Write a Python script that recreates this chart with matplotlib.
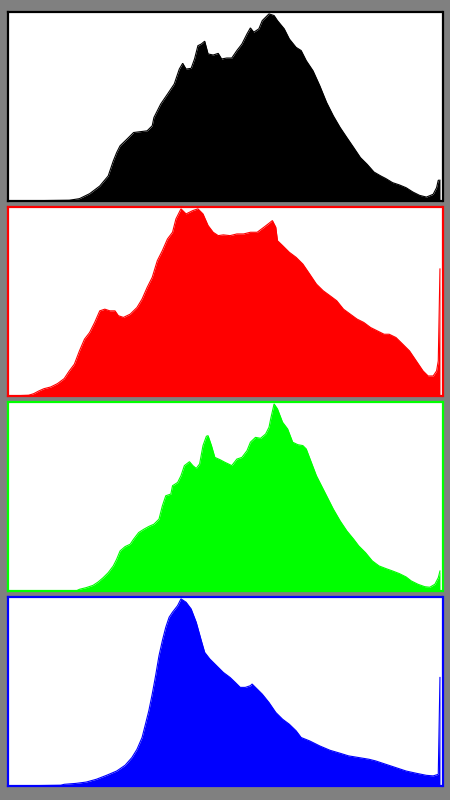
import matplotlib
matplotlib.use("Agg")
import matplotlib.pyplot as plt

# Black (luminance) channel
lum_levels = [0, 36, 42, 48, 54, 59, 62, 64, 66, 70, 74, 82, 85, 86, 90, 94, 98, 101, 103, 105,
              108, 110, 112, 114, 116, 118, 121, 124, 126, 129, 132, 135, 138, 141, 143, 145, 148,
              150, 152, 154, 157, 159, 163, 166, 170, 173, 176, 180, 184, 188, 192, 196, 200, 204,
              208, 212, 216, 220, 223, 227, 231, 235, 239, 243, 247, 251, 253, 254, 255]
lum_values = [0, 0.4, 1.25, 3.9, 8.0, 13.4, 21.4, 25.9, 29.5, 33.0, 36.6, 37.5, 40.2, 44.6, 51.8,
              57.1, 62.5, 70.5, 73.6, 70.5, 70.9, 75.9, 83.0, 83.9, 85.4, 78.6, 78.0, 78.9, 75.9,
              76.4, 76.4, 80.4, 83.9, 89.3, 92.5, 90.2, 92.0, 96.4, 98.2, 100, 99.1, 96.4, 92.0,
              86.6, 82.1, 80.4, 75.0, 69.6, 61.6, 52.7, 45.5, 39.3, 33.9, 28.6, 23.2, 19.6, 15.5,
              13.4, 12.0, 9.8, 8.6, 7.1, 4.8, 3.0, 2.1, 3.6, 7.1, 11.1, 11.1]

# Red channel
red_levels = [0, 12, 15, 18, 21, 25, 29, 33, 36, 39, 42, 45, 48, 51, 54, 57, 60, 63, 65, 68, 72,
              76, 79, 82, 85, 88, 91, 94, 97, 99, 102, 105, 109, 112, 115, 118, 121, 124, 127,
              131, 135, 139, 143, 147, 151, 154, 156, 158, 159, 162, 166, 170, 174, 178, 182,
              186, 190, 194, 198, 202, 206, 210, 214, 218, 222, 225, 229, 233, 237, 241, 245,
              248, 251, 253, 254, 255]
red_values = [0, 0.4, 1.25, 2.7, 3.9, 4.8, 6.6, 9.3, 13.4, 17.0, 24.1, 30.4, 33.9, 39.3, 45.5,
              46.4, 45.5, 45.5, 42.9, 42.0, 43.75, 47.3, 51.8, 58.0, 63.4, 72.3, 77.7, 83.9, 87.5,
              94.6, 100, 97.3, 99.1, 100, 97.3, 91.1, 87.5, 85.7, 86.1, 85.7, 86.6, 86.6, 87.5,
              87.5, 90.2, 92.3, 93.75, 90.2, 83.0, 80.4, 76.8, 74.1, 70.5, 65.2, 59.8, 56.25,
              53.6, 50.9, 46.4, 43.75, 41.1, 39.3, 36.6, 34.8, 33.0, 33.0, 31.25, 27.7, 24.1,
              18.75, 13.4, 10.7, 10.7, 13.4, 18.75, 67.9]

# Green channel
green_levels = [0, 40, 42, 46, 50, 53, 56, 59, 62, 64, 66, 69, 72, 74, 77, 80, 83, 86, 89, 91,
                93, 96, 97, 100, 102, 104, 107, 109, 111, 113, 115, 117, 118, 120, 122, 125, 128,
                130, 132, 135, 138, 141, 143, 146, 149, 152, 154, 155, 157, 159, 162, 165, 168,
                171, 174, 176, 179, 182, 185, 188, 192, 196, 200, 204, 207, 211, 215, 219, 223,
                227, 231, 235, 238, 242, 246, 249, 252, 254, 255]
green_values = [0, 0, 0.9, 1.8, 3.0, 4.8, 7.1, 9.8, 13.4, 17.0, 21.4, 23.75, 25.0, 27.7, 31.25,
                33.0, 34.5, 35.7, 38.4, 45.5, 50.9, 51.8, 56.25, 58.0, 61.6, 67.0, 69.1, 67.0,
                65.5, 67.9, 77.7, 82.7, 83.0, 77.7, 71.4, 70.2, 68.75, 67.9, 67.0, 70.5, 71.4,
                75.0, 79.5, 82.1, 81.6, 83.9, 87.5, 92.0, 100, 97.3, 90.2, 86.6, 79.5, 78.2, 77.7,
                75.9, 68.75, 61.6, 56.25, 50.9, 43.75, 37.5, 32.1, 27.7, 24.1, 20.5, 16.1, 13.4,
                12.0, 10.7, 9.3, 7.5, 5.4, 3.6, 2.3, 2.0, 3.6, 7.1, 10.7]

# Blue channel
blue_levels = [0, 31, 33, 40, 46, 52, 58, 64, 69, 73, 76, 79, 81, 83, 85, 87, 89, 91, 93, 95,
               97, 100, 102, 105, 108, 111, 114, 116, 119, 123, 127, 131, 134, 137, 140, 143,
               144, 146, 150, 154, 158, 162, 166, 170, 173, 178, 184, 190, 196, 201, 207, 213,
               217, 223, 229, 235, 241, 247, 251, 254, 255]
blue_values = [0, 0.4, 0.9, 1.4, 2.1, 3.6, 5.7, 8.0, 11.1, 15.2, 19.6, 25.9, 33.0, 40.2, 49.1,
               58.9, 69.6, 77.7, 84.8, 90.2, 92.9, 96.4, 100, 98.2, 94.6, 87.5, 77.7, 71.4, 67.9,
               64.3, 60.7, 58.0, 55.4, 52.7, 52.7, 53.6, 54.5, 52.7, 49.1, 44.6, 39.3, 35.7, 33.0,
               29.5, 25.9, 24.1, 21.4, 19.1, 17.5, 16.1, 15.2, 14.3, 13.4, 11.6, 9.8, 8.0, 6.8,
               5.7, 5.4, 6.25, 58.0]

channels = [
    (lum_levels, lum_values, "#000000"),
    (red_levels, red_values, "#ff0000"),
    (green_levels, green_values, "#00ff00"),
    (blue_levels, blue_values, "#0000ff"),
]

W, H = 450, 800
fig = plt.figure(figsize=(W / 100, H / 100), dpi=100, facecolor="#808080")

for i, (lv, vals, col) in enumerate(channels):
    top = 12 + 195 * i
    bot = 201 + 195 * i
    ax = fig.add_axes([7.5 / W, 1 - bot / H, 435 / W, (bot - top) / H])
    ax.set_facecolor("white")
    ax.fill_between(lv, 0, vals, color=col, linewidth=0)
    ax.plot(lv, vals, color=col, linewidth=0.8, solid_joinstyle="miter")
    ax.set_xlim(-0.5, 256.5)
    ax.set_ylim(0, 101)
    ax.set_xticks([])
    ax.set_yticks([])
    for s in ax.spines.values():
        s.set_color(col)
        s.set_linewidth(1.6)

fig.savefig("out.png", dpi=100, facecolor=fig.get_facecolor())
